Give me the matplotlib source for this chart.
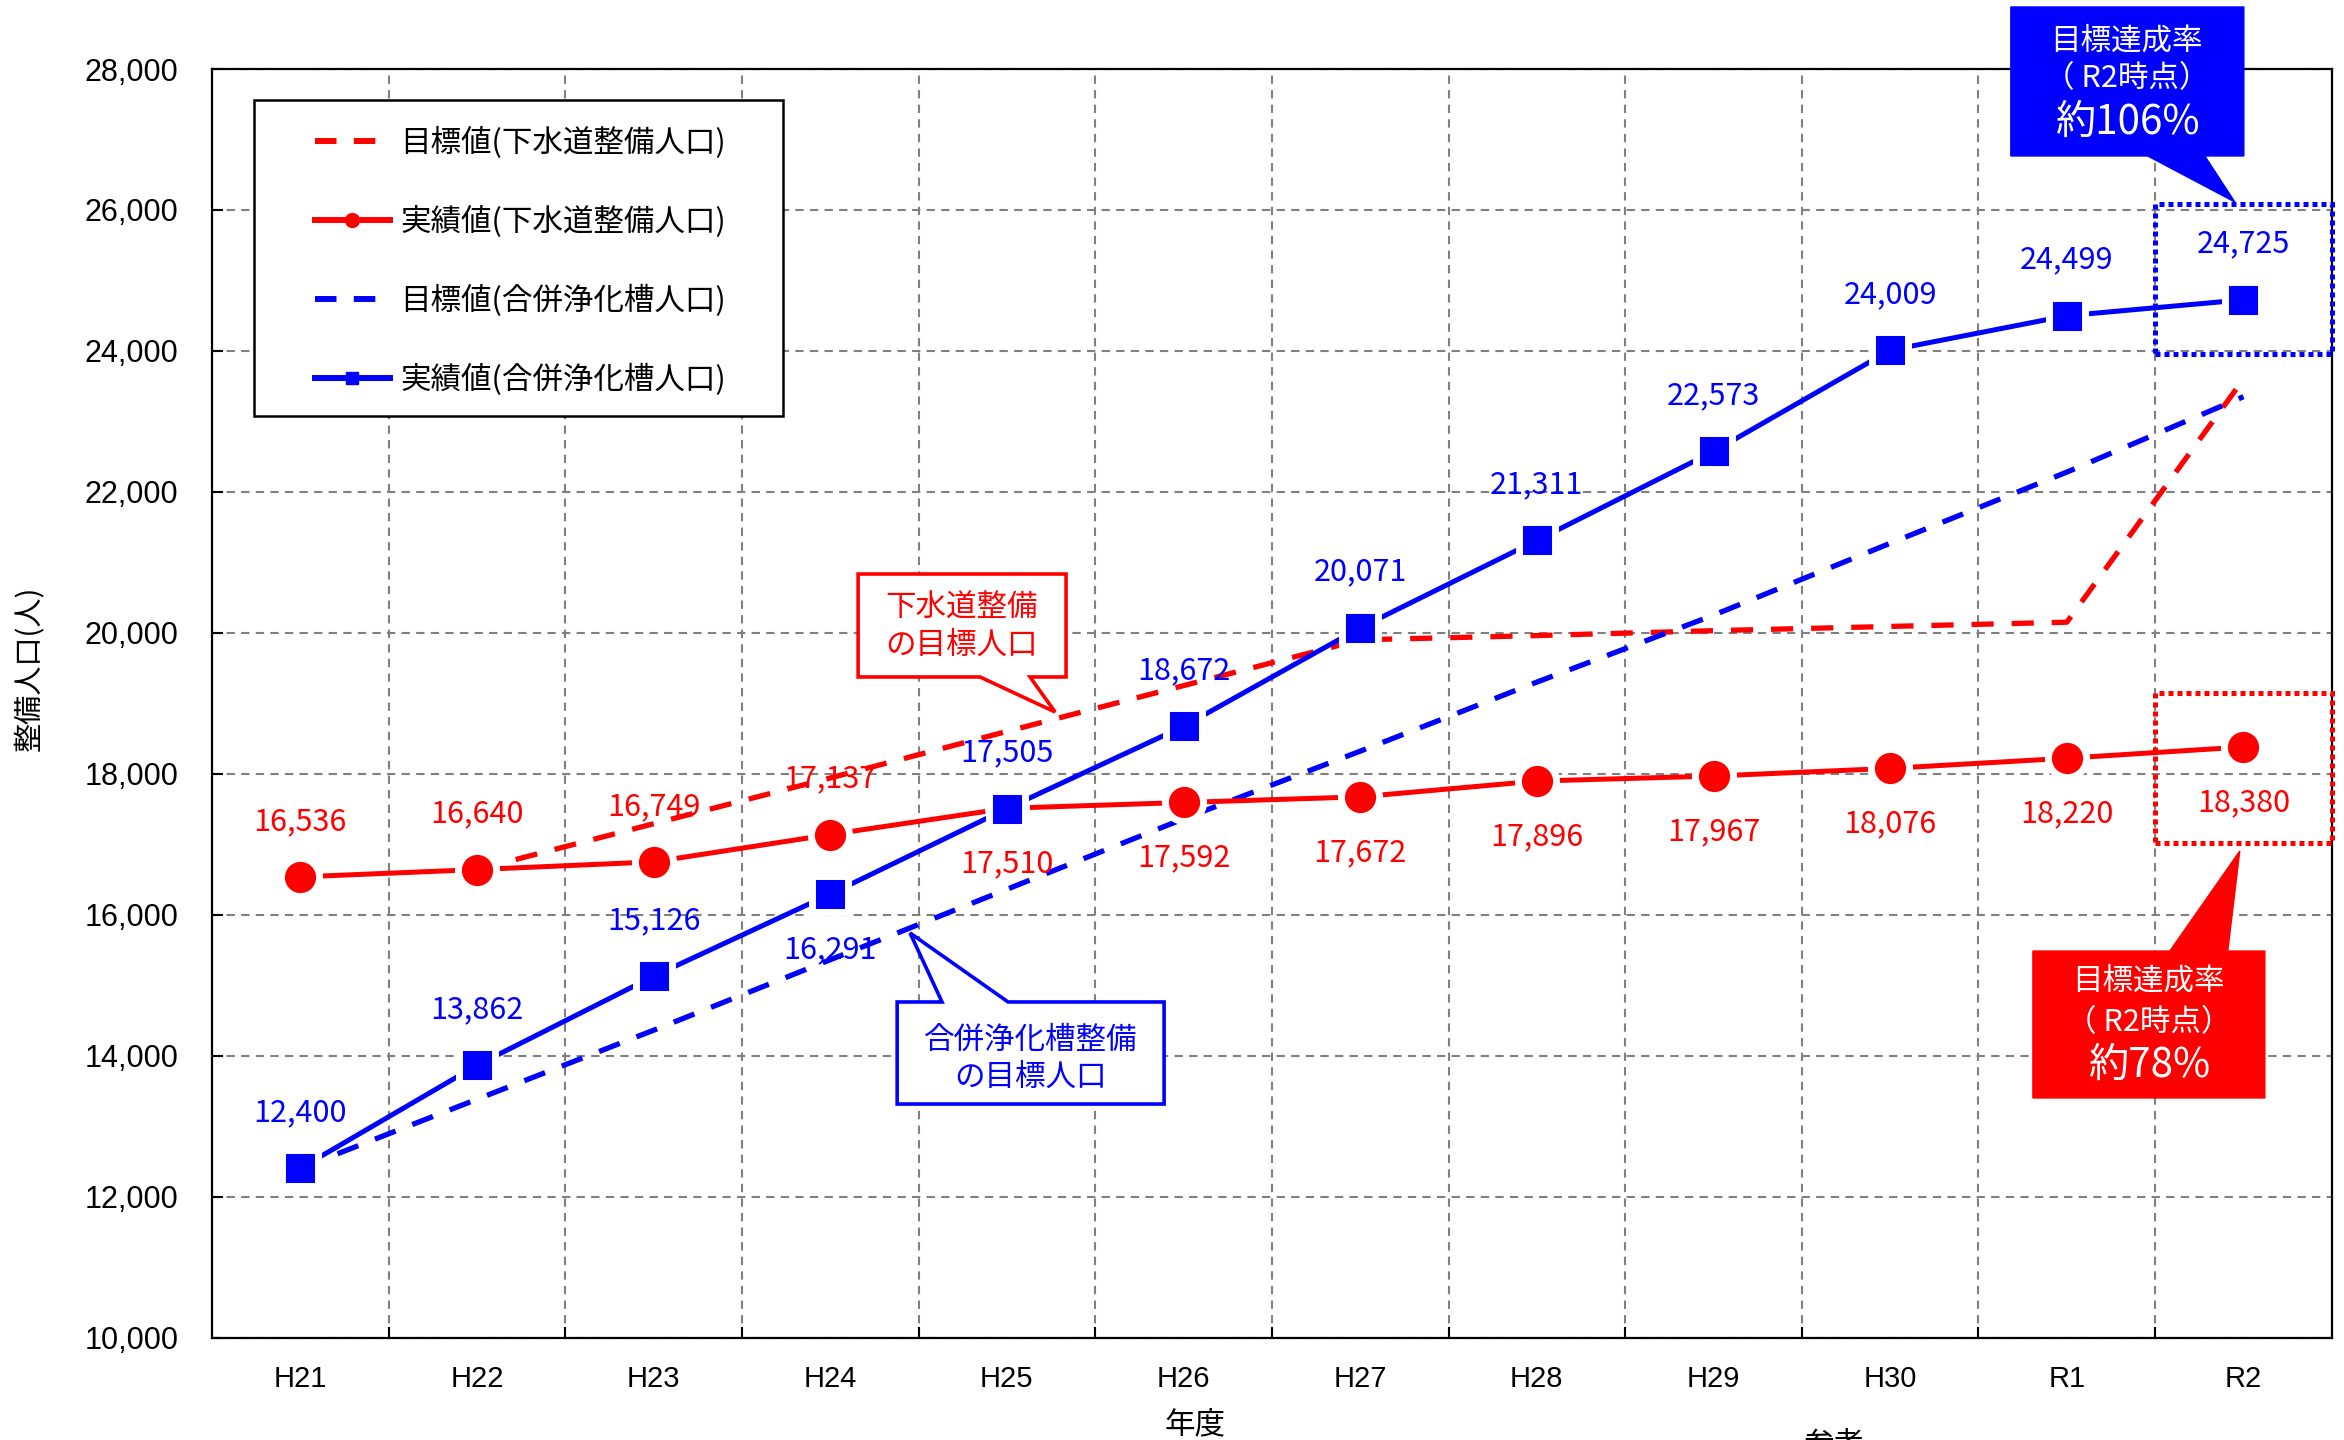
import numpy as np
import matplotlib
matplotlib.use('Agg')
import matplotlib.pyplot as plt
from matplotlib.lines import Line2D
from matplotlib.patches import Polygon, Rectangle
from matplotlib import font_manager as fm

# ---------------- data ----------------
years = ['H21', 'H22', 'H23', 'H24', 'H25', 'H26', 'H27', 'H28', 'H29', 'H30', 'R1', 'R2']
sewer_actual = [16536, 16640, 16749, 17137, 17510, 17592, 17672, 17896, 17967, 18076, 18220, 18380]
septic_actual = [12400, 13862, 15126, 16291, 17505, 18672, 20071, 21311, 22573, 24009, 24499, 24725]
sewer_target = [np.nan, 16640, 17290, 17940, 18600, 19250, 19900, 19960, 20030, 20090, 20150, 23600]
septic_target = [12400, 13380, 14360, 15360, 16360, 17360, 18320, 19300, 20250, 21270, 22280, 23350]
y_ticks = [10000, 12000, 14000, 16000, 18000, 20000, 22000, 24000, 26000, 28000]

legend_labels = ['目標値(下水道整備人口)', '実績値(下水道整備人口)',
                 '目標値(合併浄化槽人口)', '実績値(合併浄化槽人口)']
sewer_callout = '下水道整備\nの目標人口'
septic_callout = '合併浄化槽整備\nの目標人口'
rate_title = '目標達成率'
rate_when = '（ R2時点）'
septic_rate = '約106%'
sewer_rate = '約78%'

# ---------------- style ----------------
RED = '#FF0000'
BLUE = '#0000FF'
plt.rcParams['font.family'] = ['Noto Sans CJK JP', 'DejaVu Sans']
names = {f.name for f in fm.fontManager.ttflist}
if 'Liberation Sans Narrow' in names:
    NARROW, YT_SIZE, XT_SIZE = ['Liberation Sans Narrow', 'DejaVu Sans'], 25, 22
else:
    NARROW, YT_SIZE, XT_SIZE = ['Liberation Sans', 'DejaVu Sans'], 22, 21

fig = plt.figure(figsize=(23.44, 14.40), dpi=100)
ax = fig.add_axes([0.0904, 0.07118, 0.9044, 0.8809])

x = np.arange(len(years))

ax.set_xlim(-0.5, len(years) - 0.5)
ax.set_ylim(y_ticks[0], y_ticks[-1])

# grid
ax.set_xticks(x)
ax.set_xticks(x[:-1] + 0.5, minor=True)
ax.set_xticklabels(years, fontfamily=NARROW, fontsize=XT_SIZE)
ax.set_yticks(y_ticks, labels=[f'{v:,}' for v in y_ticks], fontfamily=NARROW, fontsize=YT_SIZE)
ax.tick_params(axis='x', which='major', length=0, pad=20)
ax.tick_params(axis='x', which='minor', length=8, direction='in', width=1.5)
ax.tick_params(axis='y', which='major', length=8, direction='in', width=1.5, pad=24)
ax.grid(True, axis='x', which='minor', color='#808080', lw=1.5, ls=(0, (4, 3)))
ax.grid(True, axis='y', which='major', color='#808080', lw=1.5, ls=(0, (4, 3)))
ax.set_axisbelow(True)
for s in ax.spines.values():
    s.set_color('black')
    s.set_linewidth(1.6)

# series
dash = (0, (4.2, 3.4))
ax.plot(x, sewer_target, color=RED, lw=3.8, ls=dash, zorder=3)
ax.plot(x, septic_target, color=BLUE, lw=3.8, ls=dash, zorder=3)
ax.plot(x, sewer_actual, color=RED, lw=3.6, marker='o', ms=27.5, mfc=RED,
        mec='white', mew=5, zorder=4)
ax.plot(x, septic_actual, color=BLUE, lw=3.6, marker='s', ms=26, mfc=BLUE,
        mec='white', mew=5, zorder=4.1)

# data labels
LBL = 22
for i, v in enumerate(sewer_actual):
    off = 40 if i <= 3 else -40
    ax.annotate(f'{v:,}', (x[i], v), xytext=(0, off), textcoords='offset points',
                ha='center', va='center', color=RED, fontsize=LBL, zorder=6)
for i, v in enumerate(septic_actual):
    off = -40 if i == 3 else 40
    ax.annotate(f'{v:,}', (x[i], v), xytext=(0, off), textcoords='offset points',
                ha='center', va='center', color=BLUE, fontsize=LBL, zorder=6)

# legend
handles = [
    Line2D([], [], color=RED, lw=4.3, ls=(0, (3.6, 2.9))),
    Line2D([], [], color=RED, lw=4.3, marker='o', ms=10),
    Line2D([], [], color=BLUE, lw=4.3, ls=(0, (3.6, 2.9))),
    Line2D([], [], color=BLUE, lw=4.3, marker='s', ms=8),
]
leg = ax.legend(handles, legend_labels, loc='upper left', bbox_to_anchor=(0.0486, 0.9545),
                frameon=False, fontsize=22, handlelength=2.45, handletextpad=0.35,
                labelspacing=1.53, borderpad=0, borderaxespad=0)
leg.set_zorder(8)
ax.add_patch(Rectangle((0.0198, 0.7264), 0.2495, 0.2492, transform=ax.transAxes,
                       facecolor='white', edgecolor='black', lw=1.8, zorder=7))

# white speech callouts
red_call = [(3.158, 20834), (4.335, 20834), (4.335, 19373), (4.131, 19373),
            (4.273, 18876), (3.848, 19373), (3.158, 19373)]
ax.add_patch(Polygon(red_call, closed=True, facecolor='white', edgecolor=RED,
                     lw=2.6, zorder=7, joinstyle='miter'))
ax.text(3.746, 20080, sewer_callout, color=RED, fontsize=22, ha='center', va='center',
        linespacing=1.25, zorder=8)

blue_call = [(3.379, 14761), (3.633, 14761), (3.452, 15740), (4.007, 14761),
             (4.890, 14761), (4.890, 13313), (3.379, 13313)]
ax.add_patch(Polygon(blue_call, closed=True, facecolor='white', edgecolor=BLUE,
                     lw=2.6, zorder=7, joinstyle='miter'))
ax.text(4.134, 13960, septic_callout, color=BLUE, fontsize=22, ha='center', va='center',
        linespacing=1.25, zorder=8)

# dotted highlight boxes
ax.add_patch(Rectangle((10.5, 23956), 1.0, 2129, facecolor='none', edgecolor=BLUE,
                       lw=3.6, ls=(0, (1, 0.8)), zorder=6, clip_on=False))
ax.add_patch(Rectangle((10.5, 17017), 1.0, 2129, facecolor='none', edgecolor=RED,
                       lw=3.6, ls=(0, (1, 0.8)), zorder=6, clip_on=False))

# filled rate callouts
blue_fill = [(9.683, 28880), (11.002, 28880), (11.002, 26766), (10.781, 26766),
             (10.951, 26113), (10.458, 26766), (9.683, 26766)]
ax.add_patch(Polygon(blue_fill, closed=True, facecolor=BLUE, edgecolor=BLUE, lw=1,
                     zorder=7, clip_on=False))
ax.text(10.34, 28400, rate_title, color='white', fontsize=22, ha='center', va='center', zorder=8)
ax.text(10.34, 27860, rate_when, color='white', fontsize=22, ha='center', va='center', zorder=8)
ax.text(10.34, 27250, septic_rate, color='white', fontsize=29, ha='center', va='center', zorder=8)

red_fill = [(9.808, 15484), (10.583, 15484), (10.979, 16903), (10.911, 15484),
            (11.121, 15484), (11.121, 13399), (9.808, 13399)]
ax.add_patch(Polygon(red_fill, closed=True, facecolor=RED, edgecolor=RED, lw=1,
                     zorder=7, clip_on=False))
ax.text(10.464, 15060, rate_title, color='white', fontsize=22, ha='center', va='center', zorder=8)
ax.text(10.464, 14470, rate_when, color='white', fontsize=22, ha='center', va='center', zorder=8)
ax.text(10.464, 13860, sewer_rate, color='white', fontsize=29, ha='center', va='center', zorder=8)

# axis titles
fig.text(30 / 2344, 1 - 668 / 1440, '整備人口(人)', fontsize=21, rotation=90,
         ha='center', va='center')
fig.text(0.5098, 0.0104, '年度', fontsize=22, ha='center', va='center')
fig.text(0.7824, -0.0035, '参考', fontsize=22, ha='center', va='center')

fig.savefig('out.png', dpi=100)
